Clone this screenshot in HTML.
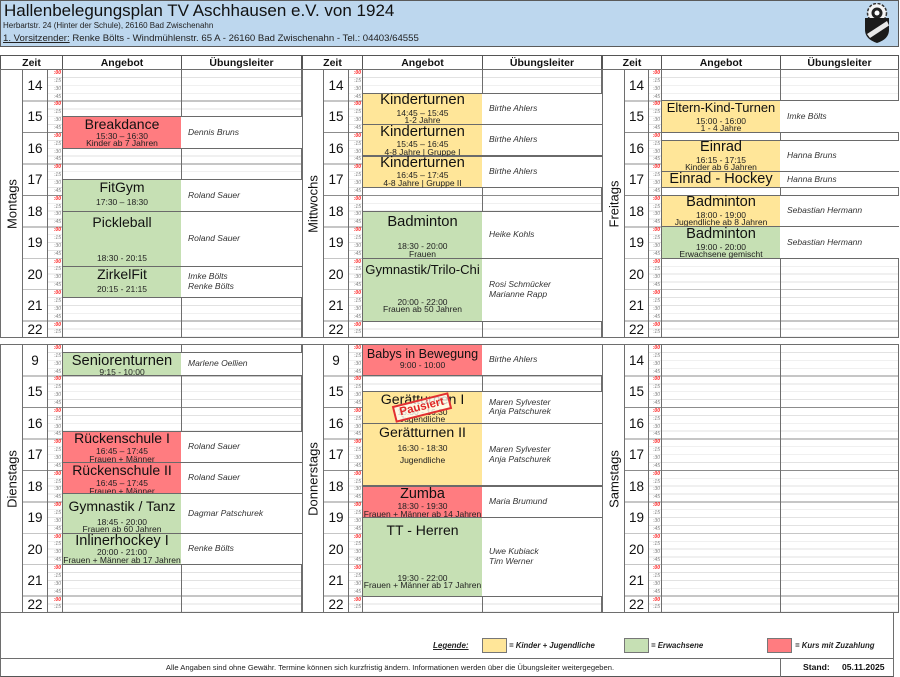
<!DOCTYPE html>
<html><head><meta charset="utf-8">
<style>
*{margin:0;padding:0;box-sizing:border-box}
body{width:900px;height:677px;position:relative;background:#fff;font-family:"Liberation Sans",Arial,sans-serif;overflow:hidden;color:#111}
.a{position:absolute}
#hdr{left:0;top:0;width:899px;height:47px;background:#bdd7ee;border:1px solid #5a5a5a}
.hc{position:absolute;top:55px;height:16px;border:1px solid #555;font-weight:bold;font-size:10.5px;line-height:14px;text-align:center;background:#fff}
.col{position:absolute;border:1px solid #6e6e6e;background-color:#fff}
.g{background-image:repeating-linear-gradient(180deg,rgba(0,0,0,0) 0px,rgba(0,0,0,0) 30.55px,#8c8c8c 30.55px,#8c8c8c 31.45px),repeating-linear-gradient(180deg,rgba(0,0,0,0) 0px,rgba(0,0,0,0) 7.06px,#e2e2e2 7.06px,#e2e2e2 7.8625px)}
.gh{background-image:repeating-linear-gradient(180deg,rgba(0,0,0,0) 0px,rgba(0,0,0,0) 30.55px,#8c8c8c 30.55px,#8c8c8c 31.45px)}
.top{top:69px;height:269.3px}
.bot{top:344px;height:269.3px}
.day span{position:absolute;left:50%;top:50%;transform:translate(-50%,-50%) rotate(-90deg);font-size:13px;white-space:nowrap;color:#111}
.hn p{height:31.45px;line-height:31.45px;text-align:center;font-size:13.5px}
.hn p.l{height:15.7px;line-height:15.7px}
.ql{font-size:5px;line-height:7.8625px;text-align:right;padding-right:1px;color:#7a7a7a;font-style:italic}
.ql b{color:#ff2020;font-weight:bold}
.ev{position:absolute;border:1px solid #6a6a6a}
.y{background:#ffe699}.gr{background:#c6e0b4}.r{background:#ff7c80}
.T{position:absolute;left:0;right:0;text-align:center;white-space:nowrap;line-height:1;font-size:14px;color:#111}
.s{position:absolute;left:0;right:0;text-align:center;white-space:nowrap;line-height:1;font-size:8.5px;color:#222}
.ul{position:absolute;background:#fff;border-top:1px solid #6a6a6a;border-bottom:1px solid #6a6a6a;display:flex;align-items:center;padding-left:7px;font-style:italic;font-size:8.5px;line-height:9.6px;color:#333}
.lg{position:absolute;font-weight:bold;font-style:italic;font-size:7.8px;color:#222;white-space:nowrap}
.lb{position:absolute;top:638px;width:25px;height:15px;border:1px solid #777}
</style></head><body>

<!-- Header -->
<div id="hdr" class="a"></div>
<div class="a" style="left:4px;top:2px;font-size:17px;line-height:1;color:#111;white-space:nowrap">Hallenbelegungsplan TV Aschhausen e.V. von 1924</div>
<div class="a" style="left:3px;top:21.5px;font-size:8px;line-height:1;color:#222;white-space:nowrap">Herbartstr. 24 (Hinter der Schule), 26160 Bad Zwischenahn</div>
<div class="a" style="left:3px;top:34px;font-size:9.6px;line-height:1;color:#222;white-space:nowrap"><u>1. Vorsitzender:</u> Renke Bölts - Windmühlenstr. 65 A - 26160 Bad Zwischenahn - Tel.: 04403/64555</div>
<svg class="a" style="left:860px;top:3px" width="34" height="41" viewBox="0 0 34 41">
<circle cx="17" cy="10" r="9.5" fill="#f4f4f4" stroke="#333" stroke-width="1.5" stroke-dasharray="3 1.5"/>
<circle cx="17" cy="10" r="5.5" fill="#222"/>
<circle cx="17" cy="10" r="2.5" fill="#fff"/>
<path d="M5 15 L29 15 L29 27 Q29 36 17 40 Q5 36 5 27 Z" fill="#1b1b1b"/>
<path d="M7 31 L27 18 L29 22.5 L10 35 Z" fill="#e8e8e8"/>
</svg>

<!-- Table headers -->
<div class="hc" style="left:0;width:63px">Zeit</div>
<div class="hc" style="left:62px;width:120px">Angebot</div>
<div class="hc" style="left:181px;width:121px">Übungsleiter</div>
<div class="hc" style="left:302px;width:61px">Zeit</div>
<div class="hc" style="left:362px;width:121px">Angebot</div>
<div class="hc" style="left:482px;width:120px">Übungsleiter</div>
<div class="hc" style="left:602px;width:60px">Zeit</div>
<div class="hc" style="left:661px;width:120px">Angebot</div>
<div class="hc" style="left:780px;width:119px">Übungsleiter</div>

<!-- ===== TOP LEFT: Montags ===== -->
<div class="col top day" style="left:0;width:23px"><span>Montags</span></div>
<div class="col top gh hn" style="left:22px;width:26px"><p>14</p><p>15</p><p>16</p><p>17</p><p>18</p><p>19</p><p>20</p><p>21</p><p class="l">22</p></div>
<div class="col top g ql" style="left:47px;width:16px"><b>:00</b><br>:15<br>:30<br>:45<br><b>:00</b><br>:15<br>:30<br>:45<br><b>:00</b><br>:15<br>:30<br>:45<br><b>:00</b><br>:15<br>:30<br>:45<br><b>:00</b><br>:15<br>:30<br>:45<br><b>:00</b><br>:15<br>:30<br>:45<br><b>:00</b><br>:15<br>:30<br>:45<br><b>:00</b><br>:15<br>:30<br>:45<br><b>:00</b><br>:15</div>
<div class="col top g" style="left:62px;width:120px"></div>
<div class="col top g" style="left:181px;width:121px"></div>

<!-- ===== TOP MID: Mittwochs ===== -->
<div class="col top day" style="left:302px;width:22px"><span>Mittwochs</span></div>
<div class="col top gh hn" style="left:323px;width:26px"><p>14</p><p>15</p><p>16</p><p>17</p><p>18</p><p>19</p><p>20</p><p>21</p><p class="l">22</p></div>
<div class="col top g ql" style="left:348px;width:15px"><b>:00</b><br>:15<br>:30<br>:45<br><b>:00</b><br>:15<br>:30<br>:45<br><b>:00</b><br>:15<br>:30<br>:45<br><b>:00</b><br>:15<br>:30<br>:45<br><b>:00</b><br>:15<br>:30<br>:45<br><b>:00</b><br>:15<br>:30<br>:45<br><b>:00</b><br>:15<br>:30<br>:45<br><b>:00</b><br>:15<br>:30<br>:45<br><b>:00</b><br>:15</div>
<div class="col top g" style="left:362px;width:121px"></div>
<div class="col top g" style="left:482px;width:120px"></div>

<!-- ===== TOP RIGHT: Freitags ===== -->
<div class="col top day" style="left:602px;width:23px"><span>Freitags</span></div>
<div class="col top gh hn" style="left:624px;width:25px"><p>14</p><p>15</p><p>16</p><p>17</p><p>18</p><p>19</p><p>20</p><p>21</p><p class="l">22</p></div>
<div class="col top g ql" style="left:648px;width:14px"><b>:00</b><br>:15<br>:30<br>:45<br><b>:00</b><br>:15<br>:30<br>:45<br><b>:00</b><br>:15<br>:30<br>:45<br><b>:00</b><br>:15<br>:30<br>:45<br><b>:00</b><br>:15<br>:30<br>:45<br><b>:00</b><br>:15<br>:30<br>:45<br><b>:00</b><br>:15<br>:30<br>:45<br><b>:00</b><br>:15<br>:30<br>:45<br><b>:00</b><br>:15</div>
<div class="col top g" style="left:661px;width:120px"></div>
<div class="col top g" style="left:780px;width:119px"></div>

<!-- ===== BOTTOM LEFT: Dienstags ===== -->
<div class="col bot day" style="left:0;width:23px"><span>Dienstags</span></div>
<div class="col bot gh hn" style="left:22px;width:26px"><p>9</p><p>15</p><p>16</p><p>17</p><p>18</p><p>19</p><p>20</p><p>21</p><p class="l">22</p></div>
<div class="col bot g ql" style="left:47px;width:16px"><b>:00</b><br>:15<br>:30<br>:45<br><b>:00</b><br>:15<br>:30<br>:45<br><b>:00</b><br>:15<br>:30<br>:45<br><b>:00</b><br>:15<br>:30<br>:45<br><b>:00</b><br>:15<br>:30<br>:45<br><b>:00</b><br>:15<br>:30<br>:45<br><b>:00</b><br>:15<br>:30<br>:45<br><b>:00</b><br>:15<br>:30<br>:45<br><b>:00</b><br>:15</div>
<div class="col bot g" style="left:62px;width:120px"></div>
<div class="col bot g" style="left:181px;width:121px"></div>

<!-- ===== BOTTOM MID: Donnerstags ===== -->
<div class="col bot day" style="left:302px;width:22px"><span>Donnerstags</span></div>
<div class="col bot gh hn" style="left:323px;width:26px"><p>9</p><p>15</p><p>16</p><p>17</p><p>18</p><p>19</p><p>20</p><p>21</p><p class="l">22</p></div>
<div class="col bot g ql" style="left:348px;width:15px"><b>:00</b><br>:15<br>:30<br>:45<br><b>:00</b><br>:15<br>:30<br>:45<br><b>:00</b><br>:15<br>:30<br>:45<br><b>:00</b><br>:15<br>:30<br>:45<br><b>:00</b><br>:15<br>:30<br>:45<br><b>:00</b><br>:15<br>:30<br>:45<br><b>:00</b><br>:15<br>:30<br>:45<br><b>:00</b><br>:15<br>:30<br>:45<br><b>:00</b><br>:15</div>
<div class="col bot g" style="left:362px;width:121px"></div>
<div class="col bot g" style="left:482px;width:120px"></div>

<!-- ===== BOTTOM RIGHT: Samstags ===== -->
<div class="col bot day" style="left:602px;width:23px"><span>Samstags</span></div>
<div class="col bot gh hn" style="left:624px;width:25px"><p>14</p><p>15</p><p>16</p><p>17</p><p>18</p><p>19</p><p>20</p><p>21</p><p class="l">22</p></div>
<div class="col bot g ql" style="left:648px;width:14px"><b>:00</b><br>:15<br>:30<br>:45<br><b>:00</b><br>:15<br>:30<br>:45<br><b>:00</b><br>:15<br>:30<br>:45<br><b>:00</b><br>:15<br>:30<br>:45<br><b>:00</b><br>:15<br>:30<br>:45<br><b>:00</b><br>:15<br>:30<br>:45<br><b>:00</b><br>:15<br>:30<br>:45<br><b>:00</b><br>:15<br>:30<br>:45<br><b>:00</b><br>:15</div>
<div class="col bot g" style="left:661px;width:120px"></div>
<div class="col bot g" style="left:780px;width:119px"></div>

<!-- ===== Montags events ===== -->
<div class="ev r" style="left:62px;top:116.2px;width:120px;height:32.45px"><p class="T" style="top:0.25px">Breakdance</p><p class="s" style="top:14.6px">15:30 – 16:30</p><p class="s" style="top:22.3px">Kinder ab 7 Jahren</p></div>
<div class="ul" style="left:181px;top:116.2px;width:121px;height:32.45px">Dennis Bruns</div>
<div class="ev gr" style="left:62px;top:179.1px;width:120px;height:32.45px"><p class="T" style="top:-0.25px">FitGym</p><p class="s" style="top:18.4px">17:30 – 18:30</p></div>
<div class="ul" style="left:181px;top:179.1px;width:121px;height:32.45px">Roland Sauer</div>
<div class="ev gr" style="left:62px;top:210.5px;width:120px;height:56px"><p class="T" style="top:3.95px">Pickleball</p><p class="s" style="top:42.3px">18:30 - 20:15</p></div>
<div class="ul" style="left:181px;top:210.5px;width:121px;height:56px">Roland Sauer</div>
<div class="ev gr" style="left:62px;top:265.6px;width:120px;height:32.45px"><p class="T" style="top:0.85px">ZirkelFit</p><p class="s" style="top:18.8px">20:15 - 21:15</p></div>
<div class="ul" style="left:181px;top:265.6px;width:121px;height:32.45px">Imke Bölts<br>Renke Bölts</div>

<!-- ===== Mittwochs events ===== -->
<div class="ev y" style="left:362px;top:92.6px;width:121px;height:32.45px"><p class="T" style="top:-0.13px;font-size:14.8px">Kinderturnen</p><p class="s" style="top:15.2px">14:45 – 15:45</p><p class="s" style="top:22.9px">1-2 Jahre</p></div>
<div class="ul" style="left:482px;top:92.6px;width:120px;height:32.45px">Birthe Ahlers</div>
<div class="ev y" style="left:362px;top:124px;width:121px;height:32.45px"><p class="T" style="top:-0.23px;font-size:14.8px">Kinderturnen</p><p class="s" style="top:15.1px">15:45 – 16:45</p><p class="s" style="top:22.8px">4-8 Jahre | Gruppe I</p></div>
<div class="ul" style="left:482px;top:124px;width:120px;height:32.45px">Birthe Ahlers</div>
<div class="ev y" style="left:362px;top:155.5px;width:121px;height:32.45px"><p class="T" style="top:-0.73px;font-size:14.8px">Kinderturnen</p><p class="s" style="top:14.6px">16:45 – 17:45</p><p class="s" style="top:22.3px">4-8 Jahre | Gruppe II</p></div>
<div class="ul" style="left:482px;top:155.5px;width:120px;height:32.45px">Birthe Ahlers</div>
<div class="ev gr" style="left:362px;top:210.5px;width:121px;height:48.2px"><p class="T" style="top:3.76px;font-size:14.7px">Badminton</p><p class="s" style="top:30.6px">18:30 - 20:00</p><p class="s" style="top:38.6px">Frauen</p></div>
<div class="ul" style="left:482px;top:210.5px;width:120px;height:48.2px">Heike Kohls</div>
<div class="ev gr" style="left:362px;top:257.7px;width:121px;height:63.9px"><p class="T" style="top:4.5px;font-size:13.1px">Gymnastik/Trilo-Chi</p><p class="s" style="top:39.1px">20:00 - 22:00</p><p class="s" style="top:46.4px">Frauen ab 50 Jahren</p></div>
<div class="ul" style="left:482px;top:257.7px;width:120px;height:63.9px">Rosi Schmücker<br>Marianne Rapp</div>

<!-- ===== Freitags events ===== -->
<div class="ev y" style="left:661px;top:100.45px;width:120px;height:32.45px"><p class="T" style="top:0.28px;font-size:12.9px">Eltern-Kind-Turnen</p><p class="s" style="top:15.3px">15:00 - 16:00</p><p class="s" style="top:22.3px">1 - 4 Jahre</p></div>
<div class="ul" style="left:780px;top:100.45px;width:119px;height:32.45px">Imke Bölts</div>
<div class="ev y" style="left:661px;top:139.8px;width:120px;height:32.45px"><p class="T" style="top:-0.37px;font-size:14.5px">Einrad</p><p class="s" style="top:15.3px">16:15 - 17:15</p><p class="s" style="top:22.7px">Kinder ab 6 Jahren</p></div>
<div class="ul" style="left:780px;top:139.8px;width:119px;height:32.45px">Hanna Bruns</div>
<div class="ev y" style="left:661px;top:171.2px;width:120px;height:16.7px"><p class="T" style="top:-0.17px;font-size:14.5px">Einrad - Hockey</p></div>
<div class="ul" style="left:780px;top:171.2px;width:119px;height:16.7px">Hanna Bruns</div>
<div class="ev y" style="left:661px;top:194.8px;width:120px;height:32.45px"><p class="T" style="top:-0.46px;font-size:14.6px">Badminton</p><p class="s" style="top:15.3px">18:00 - 19:00</p><p class="s" style="top:22.3px">Jugendliche ab 8 Jahren</p></div>
<div class="ul" style="left:780px;top:194.8px;width:119px;height:32.45px">Sebastian Hermann</div>
<div class="ev gr" style="left:661px;top:226.25px;width:120px;height:32.45px"><p class="T" style="top:-0.36px;font-size:14.6px">Badminton</p><p class="s" style="top:15.5px">19:00 - 20:00</p><p class="s" style="top:22.5px">Erwachsene gemischt</p></div>
<div class="ul" style="left:780px;top:226.25px;width:119px;height:32.45px">Sebastian Hermann</div>

<!-- ===== Dienstags events ===== -->
<div class="ev gr" style="left:62px;top:351.9px;width:120px;height:24.6px"><p class="T" style="top:0.66px;font-size:14.7px">Seniorenturnen</p><p class="s" style="top:14.9px">9:15 - 10:00</p></div>
<div class="ul" style="left:181px;top:351.9px;width:121px;height:24.6px">Marlene Oellien</div>
<div class="ev r" style="left:62px;top:430.5px;width:120px;height:32.45px"><p class="T" style="top:-0.05px">Rückenschule I</p><p class="s" style="top:15.3px">16:45 – 17:45</p><p class="s" style="top:23px">Frauen + Männer</p></div>
<div class="ul" style="left:181px;top:430.5px;width:121px;height:32.45px">Roland Sauer</div>
<div class="ev r" style="left:62px;top:461.9px;width:120px;height:32.45px"><p class="T" style="top:-0.05px">Rückenschule II</p><p class="s" style="top:15.9px">16:45 – 17:45</p><p class="s" style="top:23.8px">Frauen + Männer</p></div>
<div class="ul" style="left:181px;top:461.9px;width:121px;height:32.45px">Roland Sauer</div>
<div class="ev gr" style="left:62px;top:493.4px;width:120px;height:40.3px"><p class="T" style="top:4.45px">Gymnastik / Tanz</p><p class="s" style="top:23.4px">18:45 - 20:00</p><p class="s" style="top:31.1px">Frauen ab 60 Jahren</p></div>
<div class="ul" style="left:181px;top:493.4px;width:121px;height:40.3px">Dagmar Patschurek</div>
<div class="ev gr" style="left:62px;top:532.7px;width:120px;height:32.45px"><p class="T" style="top:0.03px;font-size:14.5px">Inlinerhockey I</p><p class="s" style="top:14.8px">20:00 - 21:00</p><p class="s" style="top:22.4px">Frauen + Männer ab 17 Jahren</p></div>
<div class="ul" style="left:181px;top:532.7px;width:121px;height:32.45px">Renke Bölts</div>

<!-- ===== Donnerstags events ===== -->
<div class="ev r" style="left:362px;top:344px;width:121px;height:32.45px"><p class="T" style="top:2.63px;font-size:12.6px">Babys in Bewegung</p><p class="s" style="top:15.5px">9:00 - 10:00</p></div>
<div class="ul" style="left:482px;top:344px;width:120px;height:32.45px">Birthe Ahlers</div>
<div class="ev y" style="left:362px;top:391.2px;width:121px;height:32.45px"><p class="T" style="top:0.78px;font-size:14.2px">Gerätturnen I</p><p class="s" style="top:15.6px">15:30 - 16:30</p><p class="s" style="top:23.3px">Jugendliche</p></div>
<div class="ul" style="left:482px;top:391.2px;width:120px;height:32.45px">Maren Sylvester<br>Anja Patschurek</div>
<div class="ev y" style="left:362px;top:422.6px;width:121px;height:63.9px"><p class="T" style="top:1.16px;font-size:14.1px">Gerätturnen II</p><p class="s" style="top:20.2px">16:30 - 18:30</p><p class="s" style="top:32.5px">Jugendliche</p></div>
<div class="ul" style="left:482px;top:422.6px;width:120px;height:63.9px">Maren Sylvester<br>Anja Patschurek</div>
<div class="ev r" style="left:362px;top:485.5px;width:121px;height:32.45px"><p class="T" style="top:0.61px;font-size:14.4px">Zumba</p><p class="s" style="top:15.6px">18:30 - 19:30</p><p class="s" style="top:23px">Frauen + Männer ab 14 Jahren</p></div>
<div class="ul" style="left:482px;top:485.5px;width:120px;height:32.45px">Maria Brumund</div>
<div class="ev gr" style="left:362px;top:517px;width:121px;height:79.6px"><p class="T" style="top:5.15px">TT - Herren</p><p class="s" style="top:55.5px">19:30 - 22:00</p><p class="s" style="top:63.1px">Frauen + Männer ab 17 Jahren</p></div>
<div class="ul" style="left:482px;top:517px;width:120px;height:79.6px">Uwe Kubiack<br>Tim Werner</div>

<!-- Pausiert stamp -->
<div class="a" style="left:393px;top:398.5px;width:58px;height:17px;border:2px solid #e23030;color:#e02828;font-weight:bold;font-size:11.5px;line-height:13px;text-align:center;transform:rotate(-14deg);background:rgba(255,255,255,0.75)">Pausiert</div>

<!-- Legend & footer frame -->
<div class="a" style="left:0;top:612.3px;width:899px;height:1px;background:#6e6e6e"></div>
<div class="a" style="left:0;top:612.3px;width:894px;height:64.7px;border-left:1px solid #6e6e6e;border-right:1px solid #6e6e6e;border-bottom:1px solid #555"></div>
<div class="a" style="left:0;top:658px;width:894px;height:1px;background:#6e6e6e"></div>
<div class="a" style="left:780px;top:658px;width:1px;height:19px;background:#6e6e6e"></div>

<div class="lg" style="left:433px;top:641px;font-size:8px;text-decoration:underline">Legende:</div>
<div class="lb" style="left:482px;background:#ffe699"></div>
<div class="lg" style="left:509px;top:641px">= Kinder + Jugendliche</div>
<div class="lb" style="left:624px;background:#c6e0b4"></div>
<div class="lg" style="left:651px;top:641px">= Erwachsene</div>
<div class="lb" style="left:767px;background:#ff7c80"></div>
<div class="lg" style="left:795px;top:641px">= Kurs mit Zuzahlung</div>

<div class="a" style="left:0;top:663.5px;width:780px;text-align:center;font-size:7.6px;line-height:1;color:#222;white-space:nowrap">Alle Angaben sind ohne Gewähr. Termine können sich kurzfristig ändern. Informationen werden über die Übungsleiter weitergegeben.</div>
<div class="a" style="left:803px;top:663px;font-size:8.6px;font-weight:bold;line-height:1;color:#111">Stand:</div>
<div class="a" style="left:842px;top:663px;font-size:8.6px;font-weight:bold;line-height:1;color:#111">05.11.2025</div>

</body></html>
